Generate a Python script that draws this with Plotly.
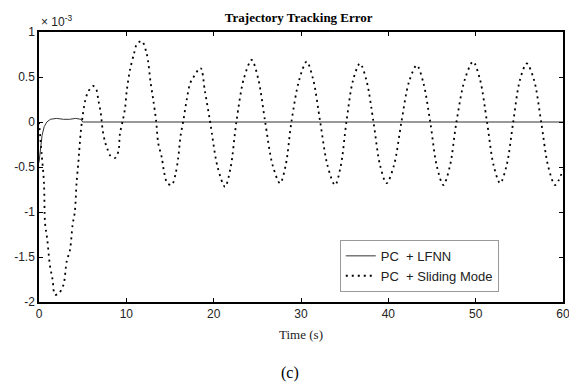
import plotly.graph_objects as go

# Time (s) and error (x 1e-3)
t_lfnn = [0, 0.15, 0.35, 0.6, 0.9, 1.3, 2.0, 2.8, 3.5, 4.2, 4.8, 5.0, 10, 20, 30, 40, 50, 60]
e_lfnn = [-0.45, -0.3, -0.15, -0.05, 0.0, 0.03, 0.04, 0.03, 0.03, 0.04, 0.03, 0.0, 0.0, 0.0, 0.0, 0.0, 0.0, 0.0]

t_smc = [0, 0.3, 0.57, 0.69, 0.95, 1.26, 1.56, 1.83, 2.3, 2.8, 3.17, 3.55, 3.85, 4.1, 4.3, 4.5, 4.6, 4.77, 4.9,
         5.27, 5.65, 6.2, 6.53, 6.8, 7.06, 7.29, 7.56, 7.8, 8.13, 8.7, 9.08, 9.27, 9.6, 9.85, 10.04, 10.42,
         10.88, 11.18, 11.76, 12.33, 12.79, 13.09, 13.4, 13.66, 14.05, 14.35, 14.7, 15.2, 15.65, 15.95,
         16.2, 16.5, 16.9, 17.3, 17.7, 18.5, 19.0, 19.6,
         20.45, 21.3, 21.95, 22.6, 23.45, 24.35, 25.1, 25.9, 26.75, 27.6, 28.25, 28.9, 29.8, 30.65,
         31.4, 32.2, 33.05, 33.9, 34.55, 35.2, 35.95, 36.75, 37.5, 38.3, 39.05, 39.8, 40.65, 41.5,
         42.35, 43.25, 44.0, 44.8, 45.55, 46.3, 47.05, 47.8, 48.75, 49.7, 50.5, 51.3, 52.05, 52.8,
         53.55, 54.3, 55.05, 55.85, 56.7, 57.5, 58.3, 59.1, 60.0]
e_smc = [0.0, -0.35, -0.68, -1.12, -1.31, -1.6, -1.75, -1.92, -1.9, -1.81, -1.55, -1.42, -1.14, -1.0, -0.68, -0.46, -0.33, -0.12, -0.01,
         0.23, 0.34, 0.4, 0.37, 0.24, 0.11, -0.09, -0.22, -0.29, -0.37, -0.4, -0.33, -0.13, 0.02, 0.15, 0.34, 0.58,
         0.76, 0.86, 0.9, 0.76, 0.43, 0.24, 0.02, -0.24, -0.39, -0.57, -0.68, -0.7, -0.57, -0.39,
         -0.16, 0.0, 0.24, 0.43, 0.5, 0.6, 0.34, 0.0,
         -0.5, -0.72, -0.5, 0.0, 0.48, 0.69, 0.48, 0.0, -0.48, -0.68, -0.48, 0.0, 0.47, 0.67,
         0.47, 0.0, -0.49, -0.70, -0.49, 0.0, 0.46, 0.65, 0.46, 0.0, -0.48, -0.68, -0.48, 0.0,
         0.44, 0.63, 0.44, 0.0, -0.49, -0.70, -0.49, 0.0, 0.47, 0.67, 0.47, 0.0, -0.48, -0.68,
         -0.48, 0.0, 0.46, 0.65, 0.46, 0.0, -0.49, -0.70, -0.53]

x_ticks = [0, 10, 20, 30, 40, 50, 60]
y_ticks = [1, 0.5, 0, -0.5, -1, -1.5, -2]
y_tick_text = ["1", "0.5", "0", "-0.5", "-1", "-1.5", "-2"]

fig = go.Figure()
fig.add_trace(go.Scatter(x=t_lfnn, y=e_lfnn, mode="lines", name="PC\u00a0 + LFNN",
                         line=dict(color="#333333", width=1)))
fig.add_trace(go.Scatter(x=t_smc, y=e_smc, mode="lines", name="PC\u00a0 + Sliding Mode",
                         line=dict(color="black", width=1.8, dash="2px,4px", shape="spline", smoothing=0.9)))

axis_common = dict(showgrid=False, zeroline=False, showline=True, linecolor="black", linewidth=1.5,
                   mirror="ticks", ticks="inside", ticklen=4, tickcolor="black", automargin=False,
                   ticklabeloverflow="allow",
                   tickfont=dict(family="Liberation Sans, Arial, sans-serif", size=12, color="#222"))

fig.update_layout(
    width=569, height=388,
    margin=dict(l=39, r=6, t=32, b=86),
    paper_bgcolor="white", plot_bgcolor="white",
    title=dict(text="<b>Trajectory Tracking Error</b>", x=0.525, xanchor="center", y=0.954, yanchor="middle",
               font=dict(family="Liberation Serif, Times New Roman, serif", size=13, color="black")),
    xaxis=dict(range=[0, 60], tickvals=x_ticks, ticktext=[str(v) for v in x_ticks],
               title=dict(text="Time (s)", standoff=10,
                          font=dict(family="Liberation Serif, Times New Roman, serif", size=13, color="#222")),
               **axis_common),
    yaxis=dict(range=[-2, 1], tickvals=y_ticks, ticktext=y_tick_text, **axis_common),
    legend=dict(x=0.574, y=0.23, xanchor="left", yanchor="top", bgcolor="white",
                bordercolor="#999", borderwidth=1, tracegroupgap=0, itemwidth=30,
                font=dict(family="Liberation Sans, Arial, sans-serif", size=13, color="#222")),
    showlegend=True,
)

fig.add_annotation(text="× 10<sup>-3</sup>", xref="paper", yref="paper", x=0.0, y=1.0, yshift=1,
                   xanchor="left", yanchor="bottom", showarrow=False,
                   font=dict(family="Liberation Sans, Arial, sans-serif", size=12, color="#222"))
fig.add_annotation(text="(c)", xref="paper", yref="paper", x=0.479, y=-0.263,
                   xanchor="center", yanchor="middle", showarrow=False,
                   font=dict(family="Liberation Serif, Times New Roman, serif", size=16, color="black"))

fig.write_html("out.html", config={"displayModeBar": False},
               post_script="document.body.style.margin='0px';document.body.style.overflow='hidden';")
